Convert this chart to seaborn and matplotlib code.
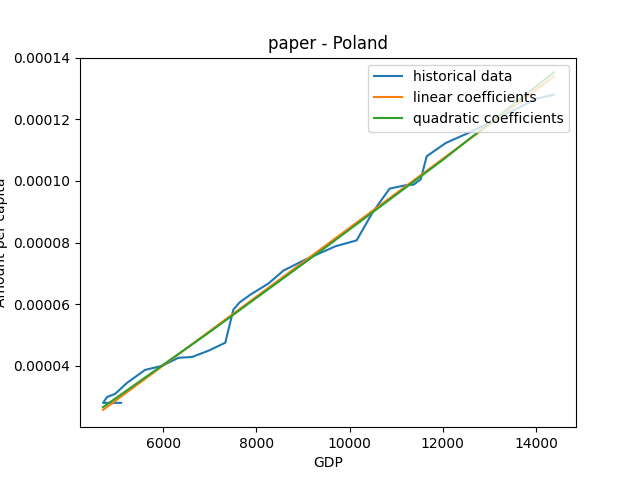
import matplotlib
matplotlib.use("Agg")
import matplotlib.pyplot as plt
import seaborn as sns

hist_x = [5097, 4710, 4796, 4968, 5226, 5613, 5979, 6323, 6624, 6968, 7333, 7505, 7634, 7871,
          8258, 8581, 9054, 9699, 10151, 10495, 10860, 11204, 11376, 11527, 11656, 12065,
          12602, 13250, 14000, 14387]
hist_y = [28.0, 28.0, 29.9, 30.9, 34.5, 38.7, 40.0, 42.6, 42.9, 44.9, 47.5, 58.2, 60.5, 63.1,
          66.7, 70.9, 74.5, 78.8, 80.7, 89.8, 97.5, 98.6, 98.8, 100.5, 108.0, 112.3,
          115.9, 120.8, 126.6, 128.0]
lin_x = [4710, 14387]
lin_y = [25.7, 133.8]
quad_x = [4710, 7000, 9500, 12000, 14387]
quad_y = [26.6, 51.0, 78.6, 106.8, 135.2]

sc = 1e-6
fig, ax = plt.subplots(figsize=(6.4, 4.8), dpi=100)
sns.lineplot(x=hist_x, y=[v*sc for v in hist_y], sort=False, ax=ax, label="historical data", color="#1f77b4")
sns.lineplot(x=lin_x, y=[v*sc for v in lin_y], ax=ax, label="linear coefficients", color="#ff7f0e")
sns.lineplot(x=quad_x, y=[v*sc for v in quad_y], ax=ax, label="quadratic coefficients", color="#2ca02c")
ax.set_xlim(4215, 14860)
ax.set_ylim(20.1e-6, 140e-6)
ax.set_yticks([4e-5, 6e-5, 8e-5, 1e-4, 1.2e-4, 1.4e-4])
ax.set_yticklabels(["0.00004", "0.00006", "0.00008", "0.00010", "0.00012", "0.00014"])
ax.set_xticks([6000, 8000, 10000, 12000, 14000])
ax.set_xlabel("GDP")
ax.set_ylabel("Amount per capita")
ax.set_title("paper - Poland")
ax.legend(loc="upper right")
fig.savefig("out.png", dpi=100)
